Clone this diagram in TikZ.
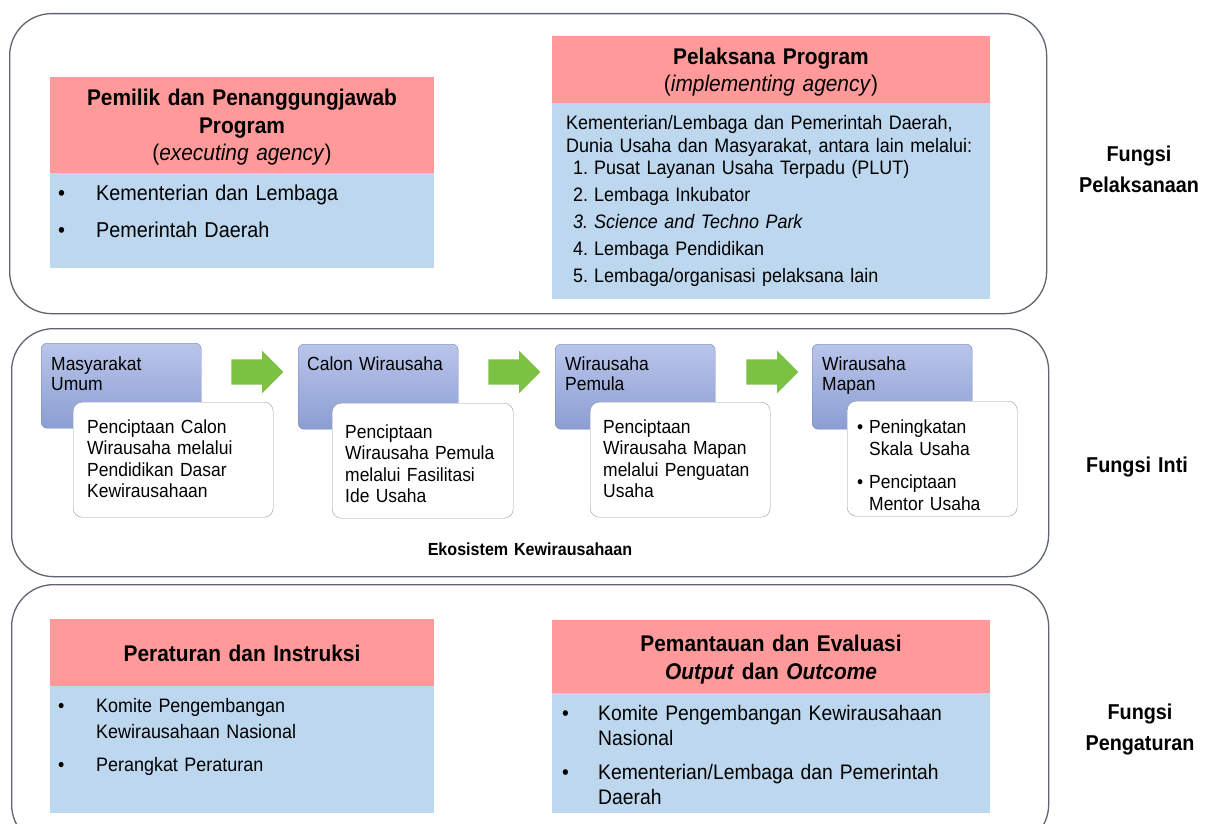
\documentclass[tikz,border=0pt]{standalone}
\usepackage{fontspec}
\setmainfont{Liberation Sans}[FakeStretch=0.92]
\usetikzlibrary{shapes.arrows}
\definecolor{headred}{HTML}{FF999A}
\definecolor{bodyblue}{HTML}{BDD7EE}
\definecolor{framegray}{HTML}{5E6570}
\definecolor{stagetop}{HTML}{B9C5EA}
\definecolor{stagebot}{HTML}{8B9DD2}
\definecolor{stageline}{HTML}{6F80B8}
\definecolor{notegray}{HTML}{9A9A9A}
\definecolor{arrowgreen}{HTML}{7CC242}

\begin{document}
\begin{tikzpicture}[x=1pt,y=-1pt,
 zone/.style={draw=framegray,line width=1.3pt,rounded corners=42pt,anchor=north west,inner sep=0pt},
 redhead/.style={fill=headred,anchor=north west,inner sep=0pt},
 bluebody/.style={fill=bodyblue,anchor=north west,inner sep=0pt},
 stage/.style={draw=stageline,top color=stagetop,bottom color=stagebot,rounded corners=6pt,anchor=north west,inner sep=0pt,minimum width=160pt,minimum height=85pt},
 note/.style={draw=notegray,fill=white,rounded corners=9pt,anchor=north west,inner sep=0pt,minimum height=115pt},
 flow/.style={single arrow,fill=arrowgreen,inner sep=12.5pt,single arrow head extend=8.5pt,minimum height=52pt},
 txt/.style={inner sep=0pt,anchor=base west,align=left},
 ctxt/.style={inner sep=0pt,anchor=base,align=center},
 side/.style={inner sep=0pt,anchor=base,align=center,text width=160pt,font=\fontsize{21.5}{31}\selectfont\bfseries}]
\path[use as bounding box](0,0)rectangle(1218,824);
\clip(0,0)rectangle(1218,824);
\fill[white](0,0)rectangle(1218,824);
% fungsi pelaksanaan
\node[zone,minimum width=1037pt,minimum height=300pt](execzone) at (9,13){};
\node[redhead,minimum width=384pt,minimum height=96pt](ownerhead) at (50,77){};
\node[bluebody,minimum width=384pt,minimum height=95pt](ownerbody) at (50,173){};
\node[ctxt,text width=384pt,font=\fontsize{22.7}{27.5}\selectfont](ownertitle) at (242,106){\textbf{Pemilik dan Penanggungjawab}\\\textbf{Program}\\(\textit{executing agency})};
\node[txt,text width=370pt,font=\fontsize{21.5}{37}\selectfont](ownerlist) at (58,200){\begin{tabular}[t]{@{}p{38pt}@{}l@{}}•&Kementerian dan Lembaga\\•&Pemerintah Daerah\end{tabular}};
\node[redhead,minimum width=438pt,minimum height=67pt](implhead) at (552,36){};
\node[bluebody,minimum width=438pt,minimum height=196pt](implbody) at (552,103){};
\node[ctxt,text width=438pt,font=\fontsize{22.7}{27}\selectfont](impltitle) at (771,65){\textbf{Pelaksana Program}\\(\textit{implementing agency})};
\node[txt,text width=430pt,font=\fontsize{19.5}{22.5}\selectfont](implintro) at (566,130){Kementerian/Lembaga dan Pemerintah Daerah,\\Dunia Usaha dan Masyarakat, antara lain melalui:};
\node[txt,text width=410pt,font=\fontsize{19.5}{27}\selectfont](impllist) at (573,175){\begin{tabular}[t]{@{}l@{\hspace{6pt}}l@{}}1.&Pusat Layanan Usaha Terpadu (PLUT)\\2.&Lembaga Inkubator\\\itshape 3.&\itshape Science and Techno Park\\4.&Lembaga Pendidikan\\5.&Lembaga/organisasi pelaksana lain\end{tabular}};
\node[side](fpel) at (1139,161){Fungsi\\Pelaksanaan};
% fungsi inti
\node[zone,minimum width=1037pt,minimum height=248pt](corezone) at (11,328){};
\node[stage](umum) at (41,343){};
\node[stage](calon) at (298,344){};
\node[stage](pemula) at (555,344){};
\node[stage](mapan) at (812,344){};
\node[note,minimum width=200pt](umumnote) at (73,402){};
\node[note,minimum width=181pt](calonnote) at (332,403){};
\node[note,minimum width=180pt](pemulanote) at (590,402){};
\node[note,minimum width=170pt](mapannote) at (847,401){};
\node[flow](arr1) at (251,372){};
\node[flow](arr2) at (508,372){};
\node[flow](arr3) at (766,372){};
\node[txt,text width=150pt,font=\fontsize{19}{20}\selectfont](umumtxt) at (51,370){Masyarakat\\Umum};
\node[txt,text width=150pt,font=\fontsize{19}{20}\selectfont](calontxt) at (307,370){Calon Wirausaha};
\node[txt,text width=150pt,font=\fontsize{19}{20}\selectfont](pemulatxt) at (565,370){Wirausaha\\Pemula};
\node[txt,text width=150pt,font=\fontsize{19}{20}\selectfont](mapantxt) at (822,370){Wirausaha\\Mapan};
\node[txt,text width=185pt,font=\fontsize{19}{21.5}\selectfont](umumnotetxt) at (87,433){Penciptaan Calon\\Wirausaha melalui\\Pendidikan Dasar\\Kewirausahaan};
\node[txt,text width=170pt,font=\fontsize{19}{21.5}\selectfont](calonnotetxt) at (345,438){Penciptaan\\Wirausaha Pemula\\melalui Fasilitasi\\Ide Usaha};
\node[txt,text width=170pt,font=\fontsize{19}{21.5}\selectfont](pemulanotetxt) at (603,433){Penciptaan\\Wirausaha Mapan\\melalui Penguatan\\Usaha};
\node[txt,text width=165pt,font=\fontsize{19}{22}\selectfont](mapannotetxt) at (857,433){\begin{tabular}[t]{@{}p{12pt}@{}l@{}}•&Peningkatan\\&Skala Usaha\\[11pt]•&Penciptaan\\&Mentor Usaha\end{tabular}};
\node[ctxt,text width=400pt,font=\fontsize{17.5}{22}\selectfont\bfseries](ekosistem) at (530,555){Ekosistem Kewirausahaan};
\node[side](finti) at (1137,472){Fungsi Inti};
% fungsi pengaturan
\node[zone,minimum width=1037pt,minimum height=262pt](regzone) at (11,584){};
\node[redhead,minimum width=384pt,minimum height=67pt](rulehead) at (50,619){};
\node[bluebody,minimum width=384pt,minimum height=127pt](rulebody) at (50,686){};
\node[ctxt,text width=384pt,font=\fontsize{22.7}{27}\selectfont\bfseries](ruletitle) at (242,661){Peraturan dan Instruksi};
\node[txt,text width=370pt,font=\fontsize{19.5}{26}\selectfont](rulelist) at (58,712){\begin{tabular}[t]{@{}p{38pt}@{}l@{}}•&Komite Pengembangan\\&Kewirausahaan Nasional\\[7pt]•&Perangkat Peraturan\end{tabular}};
\node[redhead,minimum width=438pt,minimum height=73pt](evalhead) at (552,620){};
\node[bluebody,minimum width=438pt,minimum height=120pt](evalbody) at (552,693){};
\node[ctxt,text width=438pt,font=\fontsize{22.7}{28}\selectfont\bfseries](evaltitle) at (771,651){Pemantauan dan Evaluasi\\\textit{Output} dan \textit{Outcome}};
\node[txt,text width=420pt,font=\fontsize{21}{25}\selectfont](evallist) at (562,720){\begin{tabular}[t]{@{}p{36pt}@{}l@{}}•&Komite Pengembangan Kewirausahaan\\&Nasional\\[9pt]•&Kementerian/Lembaga dan Pemerintah\\&Daerah\end{tabular}};
\node[side](fpeng) at (1140,719){Fungsi\\Pengaturan};
\end{tikzpicture}
\end{document}
